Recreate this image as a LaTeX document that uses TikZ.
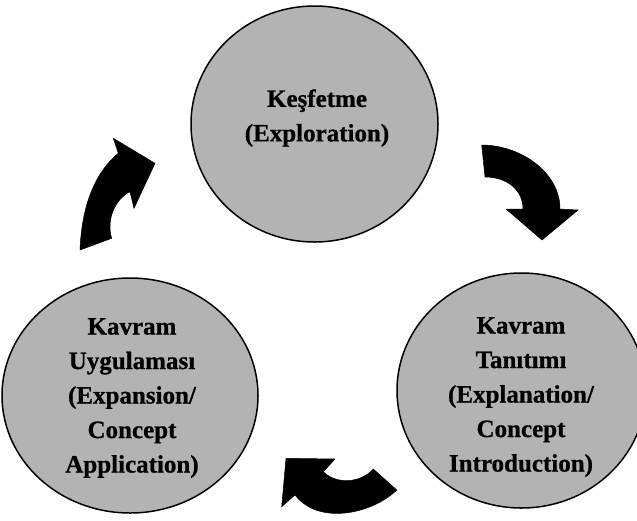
\documentclass[tikz,border=0pt]{standalone}
\usepackage{fontspec}
\setmainfont{Liberation Serif}[BoldFeatures={FakeBold=0.8}]
\usetikzlibrary{shapes.geometric}
\definecolor{stagegray}{RGB}{179,179,179}
\tikzset{
  stage/.style={ellipse, draw=black, line width=1.5pt, fill=stagegray, inner sep=0pt},
  stagetext/.style={align=center, font=\fontsize{25}{34.5}\selectfont\bfseries, inner sep=0pt},
  cyclearrow/.style={fill=black, draw=black, line width=0.5pt, line join=miter}
}
\begin{document}
\begin{tikzpicture}[x=1pt,y=-1pt]
\useasboundingbox (0,0) rectangle (637,520);

% the three stages of the cycle
\node[stage, minimum width=247pt, minimum height=236pt] (explore) at (314.5,124) {};
\node[stage, minimum width=256pt, minimum height=235pt] (apply) at (130,395.5) {};
\node[stage, minimum width=249pt, minimum height=235pt] (explain) at (521.5,390.5) {};

\node[stagetext] (exploretxt) at (317,118) {Keşfetme\\(Exploration)};
\node[stagetext] (applytxt) at (132,398) {Kavram\\Uygulaması\\(Expansion/\\Concept\\Application)};
\node[stagetext] (explaintxt) at (521,397) {Kavram\\Tanıtımı\\(Explanation/\\Concept\\Introduction)};

% curved block arrows between the stages
\fill[cyclearrow] (481.7,145) .. controls (520,145) and (560,172) .. (560,209)
  -- (578,210) -- (542,240) -- (506,209) -- (523,209)
  .. controls (523,190) and (507,177) .. (485,177) -- cycle;

\fill[cyclearrow] (396.7,490) .. controls (375,512) and (320,527) .. (295,495)
  -- (281.7,506.7) -- (286,458.3) -- (335,459) -- (323.3,471.7)
  .. controls (335,484) and (360,484) .. (373.3,469) -- cycle;

\fill[cyclearrow] (80,250) .. controls (82,200) and (98,170) .. (118.3,153.3)
  -- (113.3,138.3) -- (155,163.3) -- (134,208.3) -- (130,191.7)
  .. controls (115,199) and (106,220) .. (111.7,238.3) -- cycle;
\end{tikzpicture}
\end{document}
